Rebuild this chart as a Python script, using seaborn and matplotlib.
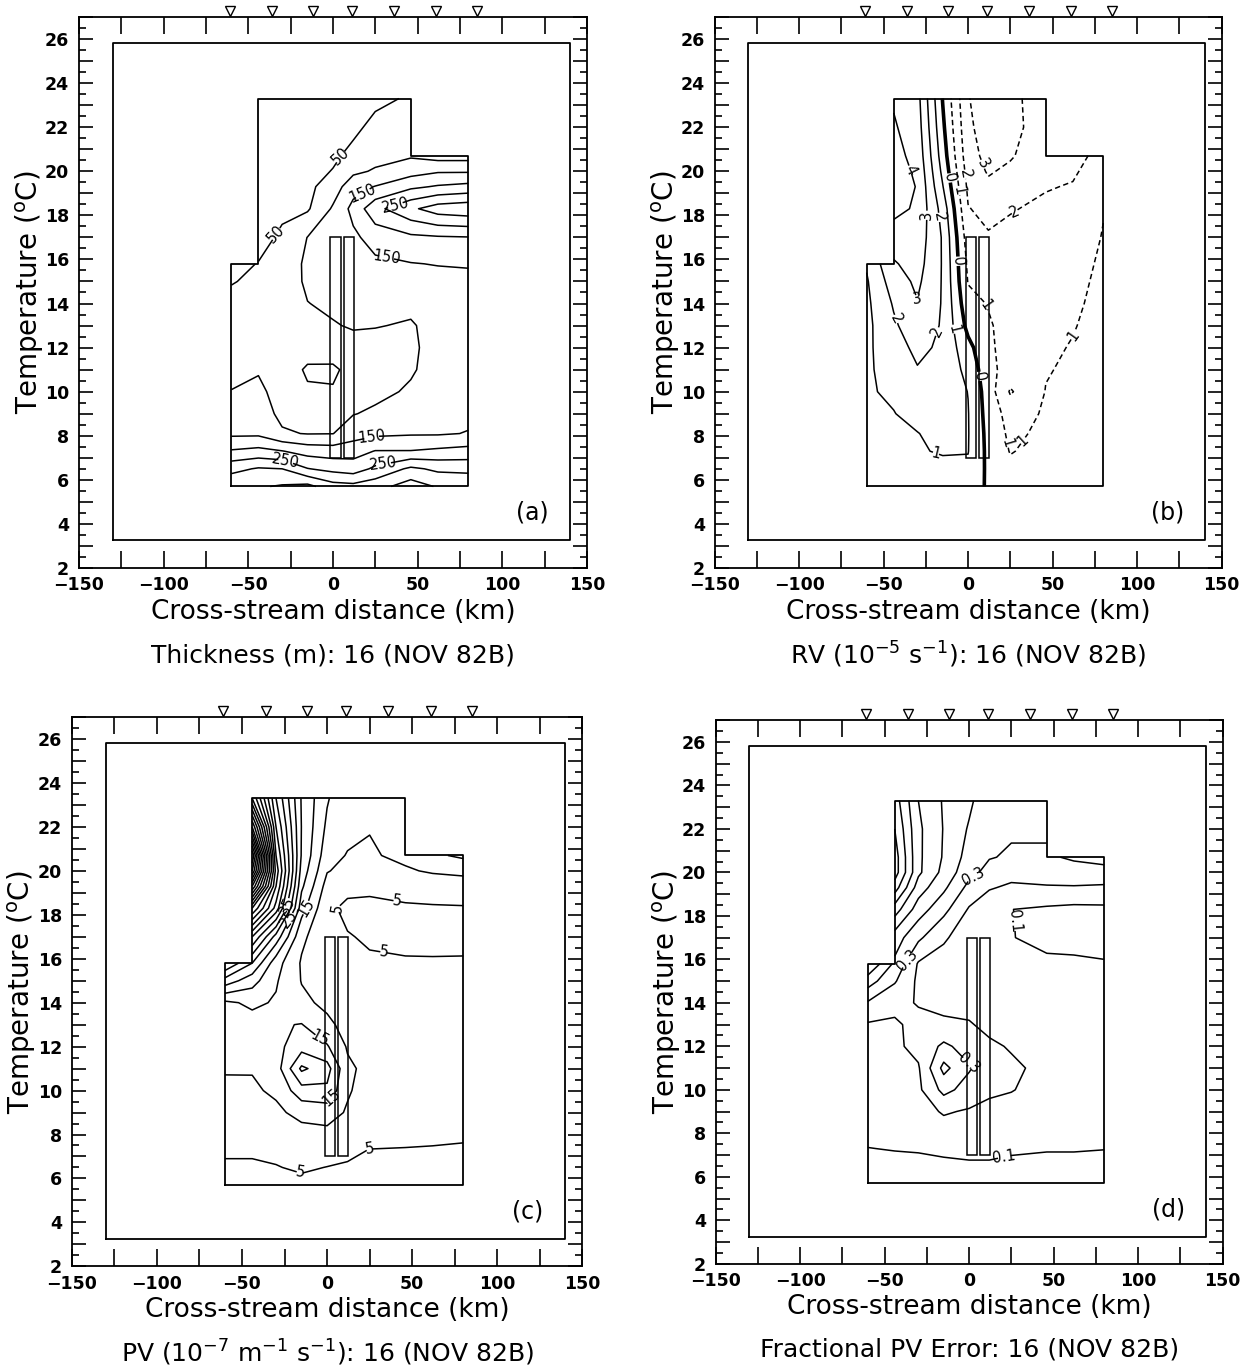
import numpy as np
import matplotlib
matplotlib.use("Agg")
import matplotlib.pyplot as plt
from matplotlib.patches import Rectangle
from matplotlib.ticker import MultipleLocator, FuncFormatter
import seaborn as sns

nan = np.nan

# ---------------- grid of the section ----------------
distance_km = [-60, -44, -30, -15, 0, 12, 25, 46, 62, 80]
temperature_c = [5.7, 6.5, 7.3, 8.1, 9, 10, 11, 12, 13, 14, 15, 15.8, 17,
                 18.3, 19.3, 20, 20.7, 22, 23.3]

# (a) thickness (m): one list per cross-stream position, cold -> warm
thickness_m = [
    [340, 285, 205, 140, 120, 101, 90, 80, 70, 60, 48, 42, nan, nan, nan, nan, nan, nan, nan],
    [345, 305, 215, 140, 120, 108, 97, 85, 75, 65, 57, 51, 40, 34, 29, 26, 24, 21, 18],
    [355, 300, 202, 105, 90, 85, 82, 80, 80, 78, 72, 68, 55, 44, 36, 30, 25, 20, 15],
    [365, 252, 180, 98, 80, 57, 42, 75, 90, 99, 108, 110, 101, 44, 38, 34, 30, 25, 20],
    [320, 235, 175, 99, 78, 55, 40, 80, 97, 108, 115, 120, 125, 106, 75, 52, 42, 32, 25],
    [315, 225, 180, 128, 98, 80, 70, 85, 104, 112, 118, 125, 140, 165, 130, 90, 62, 40, 30],
    [330, 260, 202, 140, 108, 88, 78, 85, 102, 118, 130, 140, 170, 235, 152, 105, 85, 62, 40],
    [375, 310, 202, 145, 122, 106, 95, 93, 96, 110, 130, 148, 190, 290, 190, 130, 95, 68, 55],
    [345, 290, 210, 145, 130, 122, 118, 115, 115, 120, 135, 152, 195, 325, 205, 145, 80, nan, nan],
    [345, 285, 218, 152, 140, 135, 130, 128, 127, 128, 135, 155, 198, 335, 215, 145, 80, nan, nan],
]

# (b) relative vorticity (1e-5 s-1)
rv = [
    [0.4, 0.5, 0.6, 0.7, 0.8, 0.9, 0.85, 0.8, 0.75, 0.8, 0.9, 1.1, nan, nan, nan, nan, nan, nan, nan],
    [0.6, 0.7, 0.8, 0.9, 0.97, 1.15, 1.4, 1.65, 1.85, 2.1, 2.5, 2.9, 3.5, 4.3, 4.5, 4.4, 4.3, 4.1, 3.9],
    [0.75, 0.85, 0.95, 0.97, 1.3, 1.7, 1.95, 2.2, 2.6, 2.95, 3.2, 3.4, 3.6, 3.85, 3.95, 3.85, 3.7, 3.5, 3.35],
    [0.6, 0.85, 1.05, 1.3, 1.5, 1.6, 1.75, 1.85, 1.9, 1.92, 1.92, 1.92, 1.9, 1.6, 1.05, 0.75, 0.5, 0.2, -0.05],
    [0.6, 0.85, 1.03, 1.05, 1.04, 0.98, 0.7, 0.3, -0.3, -0.7, -1.05, -1.2, -1.5, -1.95, -2.2, -2.4, -2.6, -2.8, -2.95],
    [-0.15, -0.2, -0.25, -0.3, -0.4, -0.5, -0.65, -0.8, -0.9, -1.05, -1.3, -1.5, -1.9, -2.3, -2.8, -3.1, -3.3, -3.5, -3.5],
    [-0.6, -0.8, -1.05, -1.2, -1.4, -2.1, -1.5, -1.45, -1.35, -1.4, -1.5, -1.6, -1.8, -2.05, -2.5, -2.8, -3.1, -3.3, -3.2],
    [-0.5, -0.6, -0.7, -0.8, -0.9, -0.97, -1.05, -1.15, -1.25, -1.3, -1.4, -1.5, -1.65, -1.85, -2.05, -2.2, -2.35, -2.5, -2.6],
    [-0.4, -0.5, -0.6, -0.65, -0.7, -0.8, -0.88, -0.95, -1.05, -1.15, -1.25, -1.35, -1.55, -1.8, -1.95, -2.1, -2.2, nan, nan],
    [-0.3, -0.35, -0.4, -0.45, -0.5, -0.55, -0.6, -0.65, -0.7, -0.75, -0.8, -0.85, -0.95, -1.05, -1.3, -1.6, -1.8, nan, nan],
]

# (c) potential vorticity (1e-7 m-1 s-1)
pv = [
    [3.8, 4.5, 5.5, 7.5, 8.5, 9.5, 10.2, 10.5, 11, 14, 28, 40, nan, nan, nan, nan, nan, nan, nan],
    [3.7, 4.4, 5.6, 7, 8, 9.3, 10.3, 11.5, 13, 16, 22, 30, 45, 70, 100, 120, 130, 100, 75],
    [4.0, 4.8, 6, 7.5, 9, 10.8, 12.5, 13.5, 14.5, 14.5, 15.5, 17, 28, 48, 55, 58, 55, 50, 45],
    [3.8, 5.6, 7.5, 8.5, 11.5, 18, 26, 18, 15.2, 11, 9.8, 9.5, 11, 17, 21, 23, 24.5, 24.8, 24.5],
    [3.5, 4.9, 7, 9, 12, 19, 22, 15.5, 11, 9, 8, 7.5, 6.5, 5.8, 8, 10.3, 12, 14, 15.5],
    [3.4, 4.5, 6, 8, 9.5, 10.5, 11, 9.5, 8.5, 7.5, 6.8, 6.2, 5.2, 4.2, 6, 8.5, 9.7, 11.5, 11],
    [3.2, 3.8, 4.9, 7, 7.5, 8, 8.5, 7.8, 7, 6.5, 6, 5.4, 4.6, 4.2, 5.7, 8, 9.5, 10.2, 11],
    [3.0, 3.7, 4.8, 6.3, 6.5, 6.6, 6.6, 6.5, 6.3, 6, 5.6, 5.15, 4.6, 4.5, 6.5, 9.5, 11, 11, 11.5],
    [3.0, 3.6, 4.7, 6.0, 6.3, 6.5, 6.5, 6.4, 6.3, 6, 5.5, 5.1, 4.7, 4.5, 7.5, 10.5, 14, nan, nan],
    [3.0, 3.5, 4.6, 5.6, 6.3, 6.4, 6.4, 6.3, 6.2, 6, 5.6, 5.15, 4.6, 4.6, 8, 11, 16, nan, nan],
]

# (d) fractional PV error
pv_error = [
    [0.05, 0.07, 0.098, 0.13, 0.15, 0.16, 0.17, 0.18, 0.19, 0.29, 0.45, 0.6, nan, nan, nan, nan, nan, nan, nan],
    [0.05, 0.07, 0.105, 0.13, 0.15, 0.16, 0.17, 0.18, 0.19, 0.22, 0.31, 0.38, 0.45, 0.65, 0.85, 0.95, 0.95, 0.9, 0.85],
    [0.05, 0.07, 0.11, 0.14, 0.16, 0.18, 0.19, 0.23, 0.22, 0.195, 0.18, 0.19, 0.32, 0.45, 0.55, 0.62, 0.62, 0.62, 0.6],
    [0.05, 0.08, 0.12, 0.16, 0.21, 0.33, 0.43, 0.32, 0.22, 0.17, 0.16, 0.17, 0.21, 0.33, 0.42, 0.47, 0.49, 0.495, 0.49],
    [0.05, 0.09, 0.12, 0.15, 0.19, 0.26, 0.31, 0.26, 0.21, 0.16, 0.14, 0.14, 0.16, 0.19, 0.27, 0.33, 0.36, 0.39, 0.42],
    [0.05, 0.09, 0.12, 0.14, 0.17, 0.22, 0.24, 0.22, 0.17, 0.14, 0.12, 0.11, 0.105, 0.12, 0.21, 0.27, 0.305, 0.32, 0.33],
    [0.05, 0.085, 0.11, 0.13, 0.16, 0.205, 0.22, 0.19, 0.16, 0.14, 0.12, 0.11, 0.102, 0.101, 0.18, 0.24, 0.29, 0.31, 0.32],
    [0.05, 0.08, 0.105, 0.12, 0.14, 0.16, 0.17, 0.16, 0.15, 0.13, 0.12, 0.11, 0.085, 0.085, 0.19, 0.25, 0.29, 0.31, 0.32],
    [0.05, 0.08, 0.105, 0.12, 0.13, 0.15, 0.155, 0.15, 0.14, 0.13, 0.12, 0.11, 0.08, 0.075, 0.19, 0.27, 0.31, nan, nan],
    [0.05, 0.075, 0.102, 0.12, 0.13, 0.14, 0.145, 0.14, 0.135, 0.13, 0.12, 0.105, 0.075, 0.08, 0.18, 0.28, 0.32, nan, nan],
]

# contour levels and labelled levels
thickness_levels = [50, 100, 150, 200, 250, 300, 350]
thickness_labels = [50, 150, 250]
rv_levels = [-3, -2, -1, 0, 1, 2, 3, 4]
rv_labels = [-3, -2, -1, 0, 1, 2, 3, 4]
pv_levels = list(range(5, 135, 5))
pv_labels = [5, 15, 25, 35]
pv_error_levels = [round(0.1 * k, 1) for k in range(1, 10)]
pv_error_labels = [0.1, 0.3]

# where the contour labels sit (km, degC)
thickness_label_at = [(-32, 17.0), (5, 20.6), (18, 18.9), (32, 16.4), (23, 7.8),
                      (37, 18.4), (-28, 6.8), (30, 6.6)]
rv_label_at = [(-32, 20.2), (-23.5, 18.0), (-31, 13.8), (-17.5, 17.9), (-19.6, 12.8),
               (-41, 13.4), (-9.7, 12.8), (-18.6, 7.4), (-10.7, 19.7), (-7.7, 15.9),
               (7, 10.7), (-6.7, 19.1), (9, 13.8), (64, 12.4), (18, 7.5), (34, 7.6),
               (0.2, 19.9), (26, 18.6), (8, 20.3)]
pv_label_at = [(4.6, 18.5), (33, 16.2), (41, 18.8), (-16, 6.3), (25, 7.4),
               (-4, 12.4), (3, 9.6), (-12, 18.3), (-20, 17.6), (-23, 18.4)]
pv_error_label_at = [(3.5, 19.6), (-38, 16.1), (0, 11.3), (31, 17.8), (21, 6.8)]

# outlines
domain_x = [-60, -60, -44, -44, 46, 46, 80, 80, -60]
domain_y = [5.7, 15.8, 15.8, 23.3, 23.3, 20.7, 20.7, 5.7, 5.7]
frame_x = [-130, -130, 140, 140, -130]
frame_y = [3.25, 25.8, 25.8, 3.25, 3.25]
bar_left_km = [-1.5, 6.5]
bar_width_km = 6.0
bar_bottom_c = 7.0
bar_top_c = 17.0
stations_km = [-61, -36, -12, 11, 36, 61, 85]

panel_letters = ["(a)", "(b)", "(c)", "(d)"]
panel_titles = [
    "Thickness (m): 16 (NOV 82B)",
    "RV (10$^{-5}$ s$^{-1}$): 16 (NOV 82B)",
    "PV (10$^{-7}$ m$^{-1}$ s$^{-1}$): 16 (NOV 82B)",
    "Fractional PV Error: 16 (NOV 82B)",
]
x_label = "Cross-stream distance (km)"
y_label = "Temperature ($^{\\mathrm{o}}$C)"

# ---------------- style ----------------
sns.set_theme(style="ticks")
plt.rcParams["font.family"] = ["DejaVu Sans"]
plt.rcParams["mathtext.default"] = "regular"
plt.rcParams["axes.linewidth"] = 1.3
plt.rcParams["lines.dashed_pattern"] = [3.5, 2.2]
plt.rcParams["text.color"] = "black"
plt.rcParams["axes.labelcolor"] = "black"

fig = plt.figure(figsize=(12.53, 13.69), dpi=100)
positions = [
    [0.0630, 0.5851, 0.4054, 0.4025],
    [0.5703, 0.5851, 0.4046, 0.4025],
    [0.0573, 0.0750, 0.4075, 0.4012],
    [0.5711, 0.0769, 0.4046, 0.3970],
]
axes = [fig.add_axes(p) for p in positions]

X, Y = np.meshgrid(distance_km, temperature_c)


def minus(s):
    return s.replace("-", "\u2212")


def style_axes(ax):
    ax.set_xlim(-150, 150)
    ax.set_ylim(2, 27)
    ax.set_facecolor("white")
    ax.xaxis.set_major_locator(MultipleLocator(25))
    ax.xaxis.set_major_formatter(FuncFormatter(
        lambda v, p: minus(f"{v:.0f}") if abs(round(v)) % 50 == 0 else ""))
    ax.yaxis.set_major_locator(MultipleLocator(1))
    ax.yaxis.set_minor_locator(MultipleLocator(0.5))
    ax.yaxis.set_major_formatter(FuncFormatter(
        lambda v, p: f"{v:.0f}" if round(v) % 2 == 0 else ""))
    ax.tick_params(which="both", direction="in", top=True, right=True,
                   width=1.2, color="black", labelcolor="black")
    ax.tick_params(axis="x", which="major", length=12, pad=6, labelsize=12.5)
    ax.tick_params(axis="y", which="major", length=10, pad=7, labelsize=12.5)
    ax.tick_params(axis="y", which="minor", length=5)
    for lab in ax.get_xticklabels() + ax.get_yticklabels():
        lab.set_fontweight("bold")
    for sp in ax.spines.values():
        sp.set_color("black")
        sp.set_linewidth(1.3)


def decorate(ax, letter, title):
    sns.lineplot(x=frame_x, y=frame_y, sort=False, estimator=None,
                 color="black", linewidth=1.3, ax=ax)
    sns.lineplot(x=domain_x, y=domain_y, sort=False, estimator=None,
                 color="black", linewidth=1.3, ax=ax)
    for bl in bar_left_km:
        ax.add_patch(Rectangle((bl, bar_bottom_c), bar_width_km,
                               bar_top_c - bar_bottom_c, fill=False,
                               edgecolor="black", linewidth=1.1, zorder=4))
    ax.plot(stations_km, [1.011] * len(stations_km),
            transform=ax.get_xaxis_transform(), marker="v", markersize=7,
            markerfacecolor="white", markeredgecolor="black",
            markeredgewidth=1.0, linestyle="none", clip_on=False)
    ax.text(0.893, 0.1, letter, transform=ax.transAxes, fontsize=17,
            ha="center", va="center", color="black")
    ax.text(0.5, -0.08, x_label, transform=ax.transAxes, fontsize=19,
            ha="center", va="center", color="black")
    ax.text(0.5, -0.158, title, transform=ax.transAxes, fontsize=18,
            ha="center", va="center", color="black")
    ax.text(-0.097, 0.5, y_label, transform=ax.transAxes, fontsize=20,
            rotation=90, ha="center", va="center", color="black")


def draw_field(ax, values, levels, label_levels, fmt, label_at,
               widths=None, styles=None):
    Z = np.ma.masked_invalid(np.array(values, dtype=float).T)
    if widths is None:
        widths = [1.1] * len(levels)
    if styles is None:
        styles = ["solid"] * len(levels)
    width_of = dict(zip(levels, widths))
    style_of = dict(zip(levels, styles))
    plain = [l for l in levels if l not in label_levels]
    labelled = [l for l in levels if l in label_levels]
    if plain:
        ax.contour(X, Y, Z, levels=plain, colors="black", corner_mask=False,
                   linewidths=[width_of[l] for l in plain],
                   linestyles=[style_of[l] for l in plain])
    cs = ax.contour(X, Y, Z, levels=labelled, colors="black", corner_mask=False,
                    linewidths=[width_of[l] for l in labelled],
                    linestyles=[style_of[l] for l in labelled])
    ax.clabel(cs, inline=True, fontsize=10.5, fmt=fmt,
              inline_spacing=2, manual=label_at)
    return cs


# (a)
draw_field(axes[0], thickness_m, thickness_levels, thickness_labels,
           lambda v: f"{v:.0f}", thickness_label_at)
# (b)
draw_field(axes[1], rv, rv_levels, rv_labels, lambda v: f"{abs(v):.0f}",
           rv_label_at,
           widths=[2.6 if l == 0 else 1.1 for l in rv_levels],
           styles=["dashed" if l < 0 else "solid" for l in rv_levels])
# (c)
draw_field(axes[2], pv, pv_levels, pv_labels, lambda v: f"{v:.0f}", pv_label_at)
# (d)
draw_field(axes[3], pv_error, pv_error_levels, pv_error_labels,
           lambda v: f"{v:.1f}", pv_error_label_at)

for ax, letter, title in zip(axes, panel_letters, panel_titles):
    style_axes(ax)
    decorate(ax, letter, title)
    ax.set_xlabel("")
    ax.set_ylabel("")
    leg = ax.get_legend()
    if leg is not None:
        leg.remove()

fig.savefig("out.png", dpi=100, facecolor="white")
